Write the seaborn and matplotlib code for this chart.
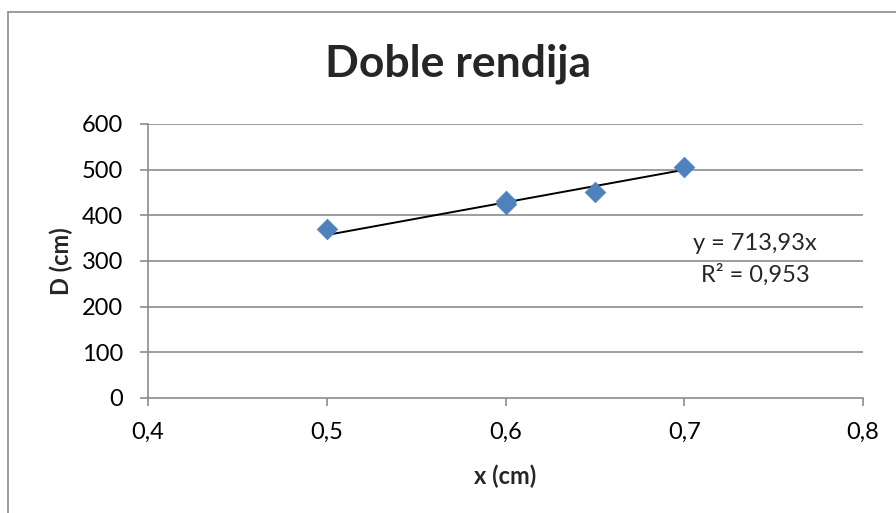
import matplotlib
matplotlib.use("Agg")
import matplotlib.pyplot as plt
import seaborn as sns
import numpy as np
import pandas as pd
from matplotlib.lines import Line2D

# data
x_cm = [0.5, 0.6, 0.6, 0.65, 0.7]
D_cm = [371, 432, 424, 451, 505]
slope = 713.93
r2_text = "R² = 0,953"
eq_text = "y = 713,93x"
x_ticks = [0.4, 0.5, 0.6, 0.7, 0.8]
x_ticklabels = ["0,4", "0,5", "0,6", "0,7", "0,8"]
y_ticks = [0, 100, 200, 300, 400, 500, 600]

sns.set_theme(style="white")
plt.rcParams['font.family'] = ['Lato', 'DejaVu Sans']

df = pd.DataFrame({"x": x_cm, "D": D_cm})

fig = plt.figure(figsize=(8.96, 5.13), dpi=100)
ax = fig.add_axes([148/896, 1-398/513, (863-148)/896, (398-124)/513])

# gridlines
for yv in y_ticks[1:]:
    ax.axhline(yv, color="#8c8c8c", lw=1.2, zorder=0)

# trendline
xl = np.array([min(x_cm), max(x_cm)])
ax.plot(xl, slope*xl, color="black", lw=1.4, zorder=2)

sns.scatterplot(data=df, x="x", y="D", marker="D", s=110, color="#4F81BD",
                edgecolor="#4F81BD", linewidth=0.5, ax=ax, zorder=3)

ax.set_xlim(0.4, 0.8)
ax.set_ylim(0, 600)
ax.set_xticks(x_ticks)
ax.set_xticklabels(x_ticklabels)
ax.set_yticks(y_ticks)
ax.set_yticklabels([str(v) for v in y_ticks])
for s in ["top", "right"]:
    ax.spines[s].set_visible(False)
for s in ["left", "bottom"]:
    ax.spines[s].set_color("#8c8c8c")
    ax.spines[s].set_linewidth(1.2)
ax.tick_params(axis="both", which="major", length=6, width=1.2, color="#8c8c8c",
               labelsize=17, labelcolor="black", direction="out",
               bottom=True, left=True)
ax.tick_params(axis="x", pad=11)
ax.tick_params(axis="y", pad=12)
ax.set_xlabel("x (cm)", fontsize=17, fontweight="bold", va="center")
ax.set_ylabel("D (cm)", fontsize=17, fontweight="bold", va="center")
ax.xaxis.set_label_coords(0.5, (398-476)/274)
ax.yaxis.set_label_coords((61-148)/715, 0.5)

ax.text(0.7396, 339, eq_text, ha="center", va="center", fontsize=17)
ax.text(0.7400, 269, r2_text, ha="center", va="center", fontsize=17)

fig.text(458/896, 1-77/513, "Doble rendija", ha="center", va="baseline",
         fontsize=32, fontweight="bold")

# chart border
fig.add_artist(Line2D([8/896, 8/896], [0, 1-12/513], transform=fig.transFigure,
                      color="#8c8c8c", lw=1.2))
fig.add_artist(Line2D([8/896, 1], [1-12/513, 1-12/513], transform=fig.transFigure,
                      color="#8c8c8c", lw=1.2))

fig.savefig("out.png", dpi=100, facecolor="white")
